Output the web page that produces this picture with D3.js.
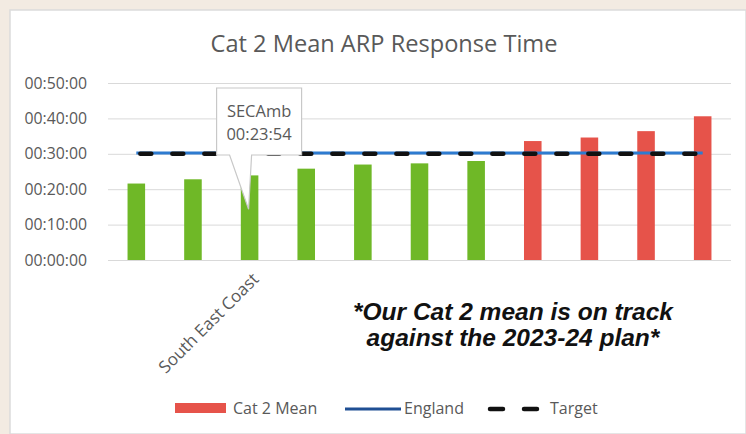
<!DOCTYPE html>
<html>
<head>
<meta charset="utf-8">
<script src="https://cdn.jsdelivr.net/npm/d3@7"></script>
<style>
  body { margin: 0; background: #f3ebe2; }
  svg { display: block; }
</style>
</head>
<body>
<script>
// chart size
const width = 746, height = 434;
const margin = { top: 83, right: 15, bottom: 174, left: 108 };

// data (mean Cat 2 response per trust, hh:mm:ss)
const trustLabels = ["", "", "South East Coast", "", "", "", "", "", "", "", ""];
const cat2Mean = ["00:21:36", "00:22:48", "00:23:54", "00:25:48", "00:26:58", "00:27:18",
                  "00:27:58", "00:33:36", "00:34:36", "00:36:24", "00:40:36"];
const englandMean = "00:30:12";
const target = "00:30:00";
const yTicks = ["00:00:00", "00:10:00", "00:20:00", "00:30:00", "00:40:00", "00:50:00"];
const highlight = { index: 2, name: "SECAmb" };

// helpers: "hh:mm:ss" -> seconds
const toSec = s => { const p = s.split(":").map(Number); return p[0] * 3600 + p[1] * 60 + p[2]; };

const data = cat2Mean.map((t, i) => ({ i, label: trustLabels[i], time: t, sec: toSec(t) }));
const targetSec = toSec(target);

const svg = d3.select("body").append("svg")
  .attr("width", width)
  .attr("height", height);

// white chart panel on the beige page
svg.append("rect")
  .attr("x", 10).attr("y", 10)
  .attr("width", width - 10).attr("height", height - 10)
  .attr("fill", "#fff")
  .attr("stroke", "#dcdcdc")
  .attr("stroke-width", 1.5);

const x = d3.scaleBand()
  .domain(data.map(d => d.i))
  .range([margin.left, width - margin.right])
  .paddingInner(0.69)
  .paddingOuter(0.345);

const y = d3.scaleLinear()
  .domain([0, toSec(yTicks[yTicks.length - 1])])
  .range([height - margin.bottom, margin.top]);

// title
svg.append("text")
  .attr("x", 384).attr("y", 52)
  .attr("text-anchor", "middle")
  .attr("font-family", "Open Sans")
  .attr("font-size", 23.6)
  .attr("fill", "#595959")
  .text("Cat 2 Mean ARP Response Time");

// y axis with gridlines
const yAxis = svg.append("g")
  .attr("transform", `translate(${margin.left},0)`)
  .call(d3.axisLeft(y)
    .tickValues(yTicks.map(toSec))
    .tickSize(-(width - margin.right - margin.left))
    .tickPadding(21)
    .tickFormat((d, k) => yTicks[k]));
yAxis.select(".domain").remove();
yAxis.selectAll(".tick line").attr("stroke", "#d9d9d9");
yAxis.selectAll(".tick text")
  .attr("font-family", "Open Sans")
  .attr("font-size", 15.8)
  .attr("fill", "#595959");

// bars: green under target, red over
svg.append("g").selectAll("rect")
  .data(data)
  .join("rect")
  .attr("x", d => x(d.i))
  .attr("y", d => y(d.sec))
  .attr("width", x.bandwidth())
  .attr("height", d => y(0) - y(d.sec))
  .attr("fill", d => d.sec > targetSec ? "#e6534a" : "#6fb827");

// x axis: only one trust is labelled
const xAxis = svg.append("g")
  .attr("transform", `translate(0,${y(0)})`)
  .call(d3.axisBottom(x).tickSize(0).tickPadding(0).tickFormat(i => trustLabels[i]));
xAxis.select(".domain").remove();
xAxis.selectAll(".tick text")
  .attr("font-family", "Open Sans")
  .attr("font-size", 17)
  .attr("fill", "#595959")
  .attr("text-anchor", "end")
  .attr("y", 0)
  .attr("dy", "0.35em")
  .attr("transform", "translate(6,16) rotate(-45)");

// England and target lines across the bar centres
const x0 = x(0) + x.bandwidth() / 2;
const x1 = x(data.length - 1) + x.bandwidth() / 2;

svg.append("line")
  .attr("x1", x0).attr("x2", x1)
  .attr("y1", y(toSec(englandMean))).attr("y2", y(toSec(englandMean)))
  .attr("stroke", "#2d7bd0")
  .attr("stroke-width", 3);

svg.append("line")
  .attr("x1", x0 + 4).attr("x2", x1 - 4)
  .attr("y1", y(targetSec)).attr("y2", y(targetSec))
  .attr("stroke", "#111")
  .attr("stroke-width", 4.5)
  .attr("stroke-linecap", "round")
  .attr("stroke-dasharray", "11,21");

// data callout on the highlighted bar
const hd = data[highlight.index];
const cx = x(hd.i) + x.bandwidth() / 2;
const tipY = y(hd.sec * 0.6);
const bx0 = cx - 33, bx1 = cx + 52, by0 = 88, by1 = 155;
svg.append("path")
  .attr("d", `M${bx0},${by0}H${bx1}V${by1}H${cx + 2}L${cx - 1},${tipY}L${cx - 20},${by1}H${bx0}Z`)
  .attr("fill", "#fff")
  .attr("stroke", "#c8c8c8")
  .attr("stroke-width", 1.2);
const callout = svg.append("text")
  .attr("text-anchor", "middle")
  .attr("font-family", "Open Sans").attr("font-size", 16.5).attr("fill", "#595959");
callout.append("tspan").attr("x", (bx0 + bx1) / 2).attr("y", 117).text(highlight.name);
callout.append("tspan").attr("x", (bx0 + bx1) / 2).attr("y", 140).text(hd.time);

// annotation
const note = svg.append("text")
  .attr("text-anchor", "middle")
  .attr("font-family", "Liberation Sans")
  .attr("font-weight", "bold")
  .attr("font-style", "italic")
  .attr("font-size", 24.5)
  .attr("fill", "#111");
note.append("tspan").attr("x", 513).attr("y", 320).text("*Our Cat 2 mean is on track");
note.append("tspan").attr("x", 513).attr("y", 346).text("against the 2023-24 plan*");

// legend
const legend = svg.append("g")
  .attr("font-family", "Open Sans")
  .attr("font-size", 16)
  .attr("fill", "#595959");

legend.append("rect")
  .attr("x", 175).attr("y", 403).attr("width", 51).attr("height", 10)
  .attr("fill", "#e6534a");
legend.append("text").attr("x", 233).attr("y", 414).text("Cat 2 Mean");

legend.append("line")
  .attr("x1", 345).attr("x2", 401).attr("y1", 409).attr("y2", 409)
  .attr("stroke", "#1f4f94").attr("stroke-width", 3);
legend.append("text").attr("x", 404).attr("y", 414).text("England");

legend.append("line")
  .attr("x1", 490).attr("x2", 538).attr("y1", 409).attr("y2", 409)
  .attr("stroke", "#111").attr("stroke-width", 4.5)
  .attr("stroke-linecap", "round")
  .attr("stroke-dasharray", "13,21");
legend.append("text").attr("x", 550).attr("y", 414).text("Target");
</script>
</body>
</html>
